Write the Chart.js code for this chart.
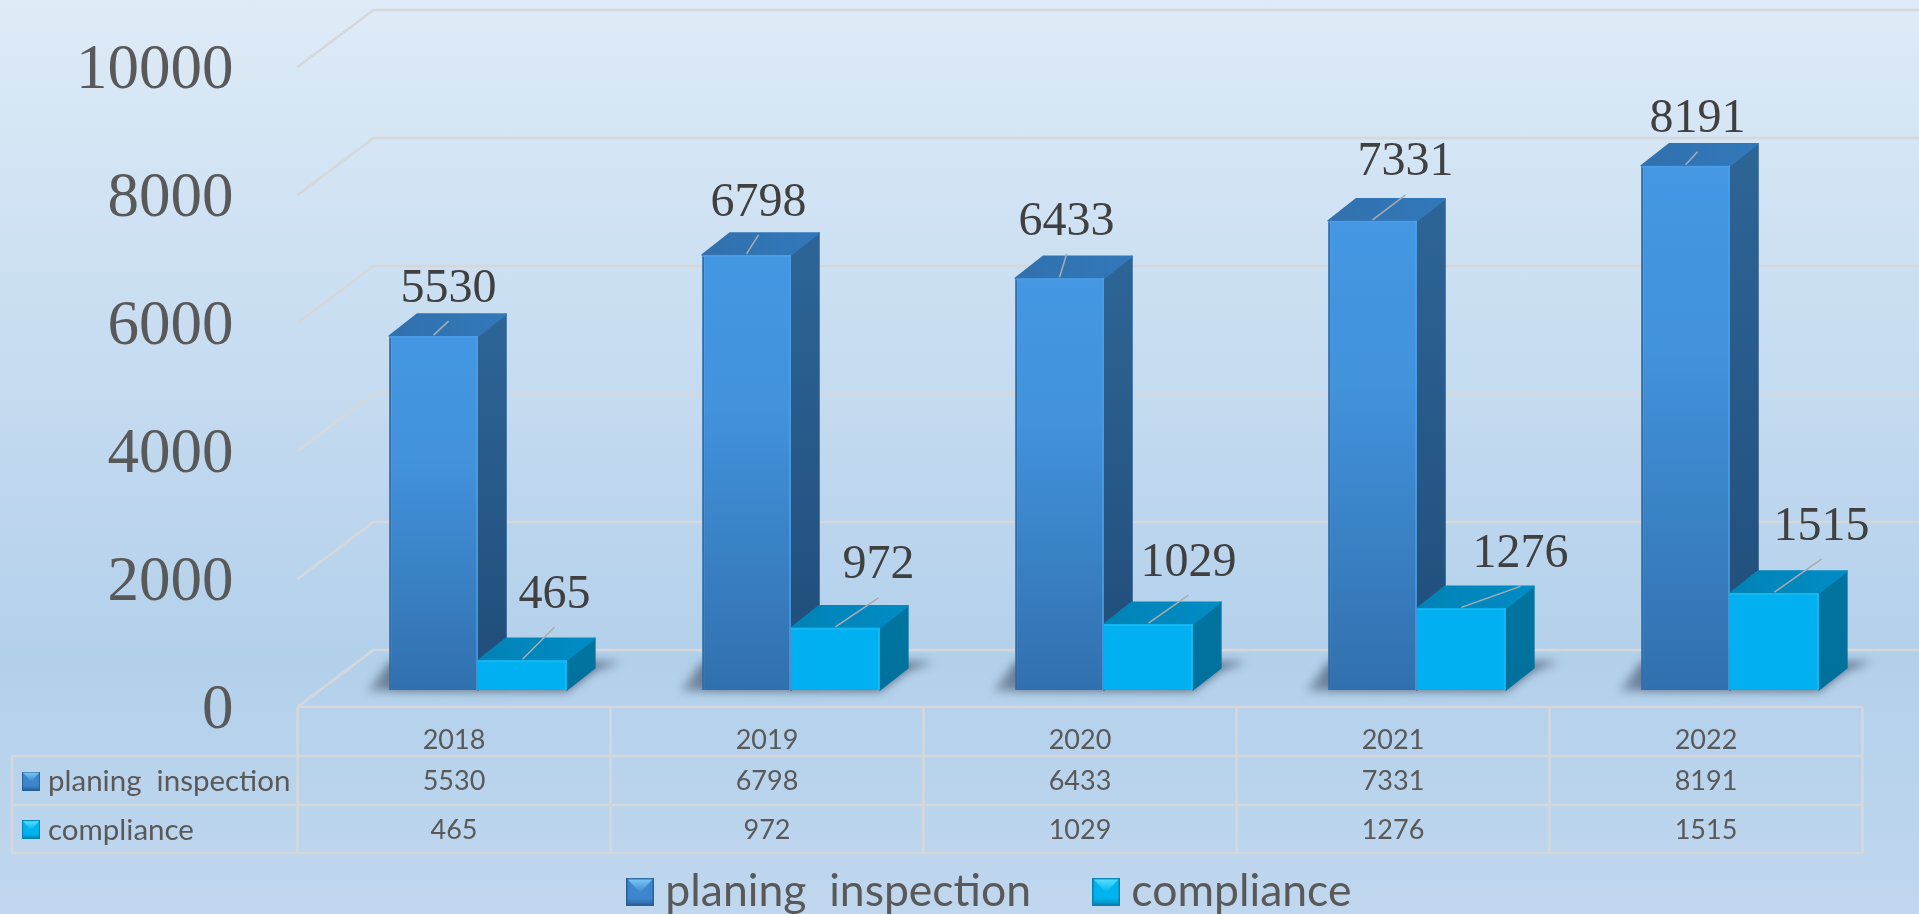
<!DOCTYPE html>
<html>
<head>
<meta charset="utf-8">
<title>planing inspection / compliance</title>
<style>
  html, body { margin: 0; padding: 0; overflow: hidden; }
  body { width: 1919px; height: 914px; background: linear-gradient(180deg, #dfebf7 0%, #d6e6f5 13%, #b3d0eb 72%, #c0d7ee 100%); }
  canvas { display: block; }
</style>
</head>
<body>
<canvas id="chart" width="1919" height="914"></canvas>
<script src="https://cdn.jsdelivr.net/npm/chart.js@4"></script>
<script>
const categories = ['2018', '2019', '2020', '2021', '2022'];
const planingValues = [5530, 6798, 6433, 7331, 8191];
const complianceValues = [465, 972, 1029, 1276, 1515];
const seriesNames = ['planing  inspection', 'compliance'];

// where each value label sits, relative to the top centre of its bar
const planingNudge = [[15, -47], [12, -52], [7, -56], [33, -58], [12, -46]];
const complianceNudge = [[32, -65], [43, -62], [40, -61], [59, -54], [47, -66]];

const depthX = 28, depthY = 22;   // bar depth
const frontX = 24, frontY = 17;   // front edge of the floor vs the bar plane
const backX = 52, backY = 40;     // back wall vs the bar plane
const rowLines = [707, 756, 805, 853];
const tableLeft = 12;
const tableText = '#595959';
const gridColor = '#d5d8db';

function makeSwatch(dark, mid, light) {
  const c = document.createElement('canvas');
  c.width = 28; c.height = 28;
  const g = c.getContext('2d');
  const body = g.createLinearGradient(0, 0, 0, 28);
  body.addColorStop(0, mid);
  body.addColorStop(0.75, mid);
  body.addColorStop(1, dark);
  g.fillStyle = body;
  g.fillRect(0, 0, 28, 28);
  const tip = g.createLinearGradient(0, 0, 0, 15);
  tip.addColorStop(0, light);
  tip.addColorStop(1, mid);
  g.fillStyle = tip;
  g.beginPath();
  g.moveTo(1, 1); g.lineTo(27, 1); g.lineTo(14, 15);
  g.closePath();
  g.fill();
  g.strokeStyle = dark;
  g.lineWidth = 1.5;
  g.strokeRect(0.75, 0.75, 26.5, 26.5);
  return c;
}
const swatches = [makeSwatch('#2a5f96', '#3d86cd', '#80d0fb'), makeSwatch('#0780ad', '#00b2ee', '#5fe4ff')];

function blueFront(context) {
  const chart = context.chart;
  if (!chart.chartArea || !context.parsed) return '#3f86cc';
  const y = chart.scales.y;
  const g = chart.ctx.createLinearGradient(0, y.getPixelForValue(context.parsed.y), 0, y.getPixelForValue(0));
  g.addColorStop(0, '#4497e2');
  g.addColorStop(0.35, '#4292dc');
  g.addColorStop(1, '#3170ae');
  return g;
}

const scene3d = {
  id: 'scene3d',
  afterLayout(chart) {
    // legend is not centred on the canvas in the picture
    chart.legend.left += 51;
    chart.legend.right += 51;
    chart.legend.top += 10;
  },
  beforeDatasetsDraw(chart) {
    const ctx = chart.ctx, y = chart.scales.y, area = chart.chartArea;
    ctx.save();

    // walls
    ctx.strokeStyle = gridColor;
    ctx.lineWidth = 2.5;
    y.ticks.forEach(t => {
      const p = y.getPixelForValue(t.value);
      ctx.beginPath();
      ctx.moveTo(area.left - frontX, p + frontY);
      ctx.lineTo(area.left + backX, p - backY);
      ctx.lineTo(chart.width, p - backY);
      ctx.stroke();
    });

    // floor shadows
    const blue = chart.getDatasetMeta(0).data, cyan = chart.getDatasetMeta(1).data;
    blue.forEach((b, i) => {
      const l = b.x - b.width / 2, r = cyan[i].x + cyan[i].width / 2, base = b.base;
      ctx.save();
      ctx.filter = 'blur(5px)';
      const shade = ctx.createLinearGradient(l - 24, 0, r + 58, 0);
      shade.addColorStop(0, 'rgba(62,78,98,0.35)');
      shade.addColorStop(0.12, 'rgba(62,78,98,0.7)');
      shade.addColorStop(1, 'rgba(62,78,98,0.8)');
      ctx.fillStyle = shade;
      ctx.beginPath();
      ctx.moveTo(l - 22, base + 1);
      ctx.lineTo(r, base + 1);
      ctx.lineTo(r + 28, base - 20);
      ctx.lineTo(r + 54, base - 28);
      ctx.lineTo(l, base - 28);
      ctx.closePath();
      ctx.fill();
      ctx.restore();
    });

    // top and side faces, blue first so cyan sits over it
    ctx.lineJoin = 'round';
    ctx.lineWidth = 1.5;
    [[blue, '#3270ad', '#3179bb', '#2d6496', '#204c78'],
     [cyan, '#0083b6', '#008cc4', '#00739f', '#00719c']].forEach(([bars, topA, topB, sideA, sideB]) => {
      bars.forEach(b => {
        const l = b.x - b.width / 2, r = b.x + b.width / 2;
        const side = ctx.createLinearGradient(0, b.y, 0, b.base);
        side.addColorStop(0, sideA);
        side.addColorStop(1, sideB);
        ctx.fillStyle = side;
        ctx.strokeStyle = side;
        ctx.beginPath();
        ctx.moveTo(r, b.y);
        ctx.lineTo(r + depthX, b.y - depthY);
        ctx.lineTo(r + depthX, b.base - depthY);
        ctx.lineTo(r, b.base);
        ctx.closePath();
        ctx.fill();
        ctx.stroke();
        const top = ctx.createLinearGradient(l, 0, r + depthX, 0);
        top.addColorStop(0, topA);
        top.addColorStop(1, topB);
        ctx.fillStyle = top;
        ctx.strokeStyle = top;
        ctx.beginPath();
        ctx.moveTo(l, b.y);
        ctx.lineTo(l + depthX, b.y - depthY);
        ctx.lineTo(r + depthX, b.y - depthY);
        ctx.lineTo(r, b.y);
        ctx.closePath();
        ctx.fill();
        ctx.stroke();
      });
    });
    ctx.restore();
  },
  afterDatasetsDraw(chart) {
    const ctx = chart.ctx;
    ctx.save();
    // light bevel along the right edge of the front faces
    [[0, '#4a9fe8'], [1, '#1cbdf4']].forEach(([d, bevel]) => {
      ctx.fillStyle = bevel;
      ctx.globalAlpha = 0.7;
      chart.getDatasetMeta(d).data.forEach(b => {
        ctx.fillRect(b.x + b.width / 2 - 2, b.y, 2, b.base - b.y);
        ctx.fillRect(b.x - b.width / 2, b.y, b.width, 2);
      });
    });
    ctx.globalAlpha = 1;
    ctx.textAlign = 'center';
    ctx.textBaseline = 'middle';
    ctx.font = '48px "Liberation Serif"';
    [[0, planingValues, planingNudge], [1, complianceValues, complianceNudge]].forEach(([d, values, nudge]) => {
      chart.getDatasetMeta(d).data.forEach((b, i) => {
        const lx = b.x + nudge[i][0], ly = b.y + nudge[i][1];
        ctx.strokeStyle = '#a9adb0';
        ctx.lineWidth = 1.5;
        ctx.beginPath();
        ctx.moveTo(b.x, b.y - 1);
        ctx.lineTo(lx, ly + 32);
        ctx.stroke();
        ctx.fillStyle = '#404040';
        ctx.fillText(values[i], lx, ly);
      });
    });
    ctx.restore();
  },
  afterDraw(chart) {
    // data table under the axis
    const ctx = chart.ctx, x = chart.scales.x, area = chart.chartArea;
    const band = (area.right - area.left) / categories.length;
    const left = area.left - frontX;
    const right = left + band * categories.length;
    ctx.save();
    ctx.strokeStyle = gridColor;
    ctx.lineWidth = 2.5;
    rowLines.forEach((ry, r) => {
      ctx.beginPath();
      ctx.moveTo(r === 0 ? left : tableLeft, ry);
      ctx.lineTo(right, ry);
      ctx.stroke();
    });
    for (let i = 0; i <= categories.length; i++) {
      ctx.beginPath();
      ctx.moveTo(left + band * i, rowLines[0]);
      ctx.lineTo(left + band * i, rowLines[3]);
      ctx.stroke();
    }
    ctx.beginPath();
    ctx.moveTo(tableLeft, rowLines[1]);
    ctx.lineTo(tableLeft, rowLines[3]);
    ctx.stroke();

    ctx.fillStyle = tableText;
    ctx.textBaseline = 'middle';
    [planingValues, complianceValues].forEach((values, r) => {
      const cy = (rowLines[r + 1] + rowLines[r + 2]) / 2 + 1;
      ctx.drawImage(swatches[r], 22, cy - 10, 18, 19);
      ctx.textAlign = 'left';
      ctx.font = '29.5px Lato';
      ctx.fillText(seriesNames[r], 48, cy);
      ctx.textAlign = 'center';
      ctx.font = '27px Lato';
      values.forEach((v, i) => ctx.fillText(v, x.getPixelForValue(i) - frontX, cy));
    });
    ctx.restore();
  }
};

new Chart(document.getElementById('chart'), {
  type: 'bar',
  data: {
    labels: categories,
    datasets: [
      { label: seriesNames[0], data: planingValues, backgroundColor: blueFront, borderColor: '#2f6ca8', borderWidth: { left: 2, right: 0, top: 0, bottom: 0 } },
      { label: seriesNames[1], data: complianceValues, backgroundColor: '#00b0f0' }
    ]
  },
  options: {
    responsive: false,
    animation: false,
    categoryPercentage: 0.568,
    barPercentage: 1,
    layout: { autoPadding: false, padding: { top: 50, right: 32.5, left: 0, bottom: 0 } },
    scales: {
      x: {
        grid: { display: false, drawTicks: false },
        border: { display: false },
        ticks: { font: { family: 'Lato', size: 27 }, color: tableText, padding: 34, labelOffset: -frontX, maxRotation: 0 },
        afterFit(scale) { scale.height = 224 - scale.chart.legend.height; }
      },
      y: {
        min: 0,
        max: 10000,
        grid: { display: false, drawTicks: false },
        border: { display: false },
        ticks: {
          stepSize: 2000,
          font: { family: 'Liberation Serif', size: 63 },
          color: '#595959',
          padding: 88,
          labelOffset: frontY + 4,
          callback: v => String(v)
        },
        afterFit(scale) {
          scale.width = 321.5;
          // the big tick labels must not push the plot down
          scale.paddingTop = 0;
          scale.paddingBottom = 0;
        }
      }
    },
    plugins: {
      tooltip: { enabled: false },
      legend: {
        position: 'bottom',
        labels: {
          usePointStyle: true,
          boxWidth: 6,
          boxHeight: 28,
          padding: 72,
          color: tableText,
          font: { family: 'Lato', size: 44.5 },
          generateLabels(chart) {
            return Chart.defaults.plugins.legend.labels.generateLabels(chart).map((item, i) => {
              item.pointStyle = swatches[i];
              return item;
            });
          }
        }
      }
    }
  },
  plugins: [scene3d]
});
</script>
</body>
</html>
